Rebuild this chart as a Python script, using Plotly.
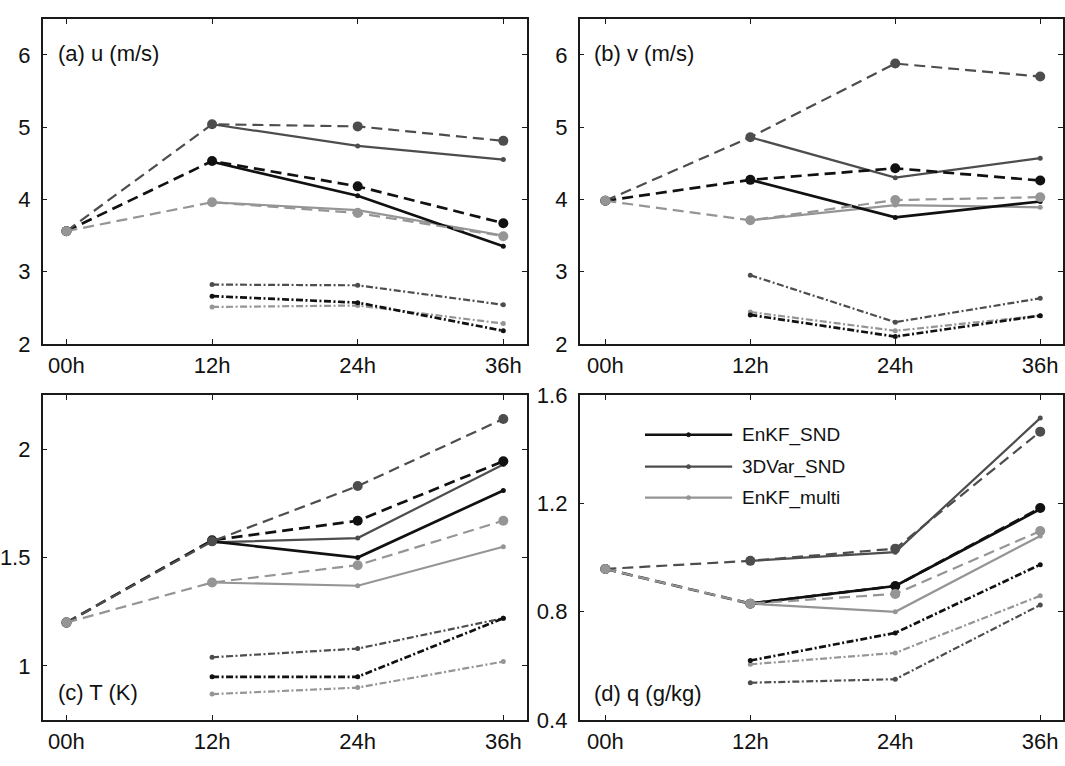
import plotly.graph_objects as go

# ---------------- data ----------------
HOURS = [0, 12, 24, 36]
HOUR_LABELS = ["00h", "12h", "24h", "36h"]
EXPERIMENTS = ["EnKF_SND", "3DVar_SND", "EnKF_multi"]

# rows: EnKF_SND, 3DVar_SND, EnKF_multi ; columns: 00h, 12h, 24h, 36h
U_SOLID = [[None, 4.52, 4.05, 3.35], [None, 5.04, 4.74, 4.55], [None, 3.96, 3.85, 3.50]]
U_DASHED = [[3.56, 4.53, 4.18, 3.67], [3.56, 5.04, 5.01, 4.81], [3.56, 3.96, 3.81, 3.49]]
U_DASHDOT = [[None, 2.66, 2.57, 2.18], [None, 2.82, 2.81, 2.54], [None, 2.51, 2.53, 2.28]]

V_SOLID = [[None, 4.27, 3.75, 3.97], [None, 4.86, 4.30, 4.57], [None, 3.71, 3.92, 3.89]]
V_DASHED = [[3.98, 4.27, 4.43, 4.26], [3.98, 4.86, 5.88, 5.70], [3.98, 3.71, 3.99, 4.03]]
V_DASHDOT = [[None, 2.40, 2.10, 2.39], [None, 2.95, 2.30, 2.63], [None, 2.44, 2.18, 2.39]]

T_SOLID = [[None, 1.575, 1.50, 1.81], [None, 1.57, 1.59, 1.93], [None, 1.385, 1.37, 1.55]]
T_DASHED = [[1.20, 1.58, 1.67, 1.945], [1.20, 1.575, 1.83, 2.14], [1.20, 1.385, 1.465, 1.67]]
T_DASHDOT = [[None, 0.95, 0.95, 1.22], [None, 1.04, 1.08, 1.22], [None, 0.87, 0.90, 1.02]]

Q_SOLID = [[None, 0.83, 0.895, 1.179], [None, 0.988, 1.02, 1.515], [None, 0.83, 0.80, 1.08]]
Q_DASHED = [[0.958, 0.83, 0.895, 1.183], [0.958, 0.988, 1.033, 1.465], [0.958, 0.83, 0.866, 1.098]]
Q_DASHDOT = [[None, 0.62, 0.722, 0.974], [None, 0.538, 0.551, 0.825], [None, 0.606, 0.648, 0.859]]

PANEL_TITLES = ["(a) u (m/s)", "(b) v (m/s)", "(c) T (K)", "(d) q (g/kg)"]
Y_TICKS = [[2, 3, 4, 5, 6], [2, 3, 4, 5, 6], [1, 1.5, 2], [0.4, 0.8, 1.2, 1.6]]
Y_TICK_LABELS = [["2", "3", "4", "5", "6"], ["2", "3", "4", "5", "6"],
                 ["1", "1.5", "2"], ["0.4", "0.8", "1.2", "1.6"]]
Y_RANGES = [[2, 6.5], [2, 6.5], [0.75, 2.25], [0.4, 1.6]]

# ---------------- styling ----------------
W, H = 1065, 766
COLORS = ["#111111", "#4d4d4d", "#959595"]
WIDTHS = [2.7, 2.2, 2.2]
FONT = "Liberation Sans, Arial, Helvetica, sans-serif"

# panel frames in pixels: (left, right, top, bottom), 00h tick px, 36h tick px
PANELS = [
    (34, 523, 7, 343, 58, 499),
    (576, 1064, 7, 343, 602, 1041),
    (34, 523, 396, 732, 58, 499),
    (576, 1064, 396, 732, 602, 1041),
]

fig = go.Figure()

panel_data = [
    (U_SOLID, U_DASHED, U_DASHDOT),
    (V_SOLID, V_DASHED, V_DASHDOT),
    (T_SOLID, T_DASHED, T_DASHDOT),
    (Q_SOLID, Q_DASHED, Q_DASHDOT),
]

DASH = "11px,6px"
DASHDOT = "7px,2.5px,2px,2.5px"

for p, (solid, dashed, dashdot) in enumerate(panel_data):
    xa = "x" if p == 0 else f"x{p+1}"
    ya = "y" if p == 0 else f"y{p+1}"
    # dash-dot
    for i in [2, 1, 0]:
        fig.add_trace(go.Scatter(
            x=HOURS, y=dashdot[i], mode="lines+markers", xaxis=xa, yaxis=ya,
            line=dict(color=COLORS[i], width=WIDTHS[i], dash=DASHDOT),
            marker=dict(size=5, color=COLORS[i]), showlegend=False,
            name=EXPERIMENTS[i], connectgaps=False))
    # solid
    for i in [2, 1, 0]:
        fig.add_trace(go.Scatter(
            x=HOURS, y=solid[i], mode="lines+markers", xaxis=xa, yaxis=ya,
            line=dict(color=COLORS[i], width=WIDTHS[i]),
            marker=dict(size=5, color=COLORS[i]), showlegend=False,
            name=EXPERIMENTS[i], connectgaps=False))
    # dashed
    for i in [0, 1, 2]:
        fig.add_trace(go.Scatter(
            x=HOURS, y=dashed[i], mode="lines+markers", xaxis=xa, yaxis=ya,
            line=dict(color=COLORS[i], width=WIDTHS[i], dash=DASH),
            marker=dict(size=10, color=COLORS[i]), showlegend=False,
            name=EXPERIMENTS[i]))

axis_common = dict(
    showgrid=False, zeroline=False, showline=True, linecolor="#1a1a1a",
    linewidth=1.6, mirror="ticks", ticks="inside", ticklen=5, tickwidth=1.2,
    tickcolor="#1a1a1a", tickfont=dict(family=FONT, size=22, color="#111111"),
)

layout = dict(
    width=W, height=H, margin=dict(l=0, r=0, t=0, b=0),
    paper_bgcolor="white", plot_bgcolor="white", showlegend=False,
    font=dict(family=FONT, color="#111111"),
)

for p, (L, R, T, B, p0, p36) in enumerate(PANELS):
    sc = (p36 - p0) / 36.0
    xr = [-(p0 - L) / sc, 36 + (R - p36) / sc]
    xkey = "xaxis" if p == 0 else f"xaxis{p+1}"
    ykey = "yaxis" if p == 0 else f"yaxis{p+1}"
    xa = "x" if p == 0 else f"x{p+1}"
    ya = "y" if p == 0 else f"y{p+1}"
    layout[xkey] = dict(axis_common, domain=[L / W, R / W], range=xr,
                        tickvals=HOURS, ticktext=HOUR_LABELS, anchor=ya,
                        ticklabelstandoff=1)
    layout[ykey] = dict(axis_common, domain=[1 - B / H, 1 - T / H],
                        range=Y_RANGES[p], tickvals=Y_TICKS[p],
                        ticktext=Y_TICK_LABELS[p], anchor=xa,
                        ticklabelstandoff=6)

fig.update_layout(**layout)

# panel titles
TITLE_POS = [(47, 43), (589, 43), (47, 703), (589, 705)]
for t, (tx, ty) in zip(PANEL_TITLES, TITLE_POS):
    fig.add_annotation(text=t, x=tx / W, y=1 - ty / H, xref="paper", yref="paper",
                       xanchor="left", yanchor="middle", showarrow=False,
                       font=dict(family=FONT, size=22, color="#111111"))

# legend (key) in panel (d)
LEG_Y = [437, 470, 502]
for i, name in enumerate(EXPERIMENTS):
    y = 1 - LEG_Y[i] / H
    fig.add_shape(type="line", xref="paper", yref="paper",
                  x0=642 / W, x1=730 / W, y0=y, y1=y,
                  line=dict(color=COLORS[i], width=WIDTHS[i]))
    fig.add_shape(type="circle", xref="paper", yref="paper",
                  x0=684 / W, x1=688 / W, y0=y - 2 / H, y1=y + 2 / H,
                  line=dict(color=COLORS[i], width=1), fillcolor=COLORS[i])
    fig.add_annotation(text=name, x=738 / W, y=y, xref="paper", yref="paper",
                       xanchor="left", yanchor="middle", showarrow=False,
                       font=dict(family=FONT, size=19, color="#111111"))

fig.write_html(
    "out.html",
    config={"displayModeBar": False},
    post_script="document.body.style.margin='0px';"
                "document.documentElement.style.overflow='hidden';",
)
